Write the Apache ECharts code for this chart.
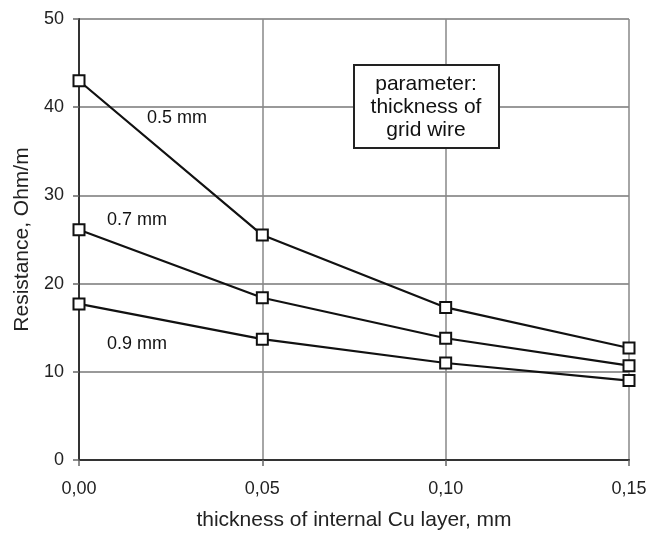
<!DOCTYPE html>
<html>
<head>
<meta charset="utf-8">
<script src="https://cdn.jsdelivr.net/npm/echarts@6/dist/echarts.min.js"></script>
<style>
  html, body { margin: 0; padding: 0; background: #fff; }
  #main { width: 652px; height: 536px; }
</style>
</head>
<body>
<div id="main"></div>
<script>
// x: thickness of internal Cu layer, mm
const cuThickness = [0, 0.05, 0.10, 0.15]
// resistance, Ohm/m, per grid wire thickness
const wire05 = [43.0, 25.5, 17.3, 12.7]
const wire07 = [26.1, 18.4, 13.8, 10.7]
const wire09 = [17.7, 13.7, 11.0, 9.0]
const seriesNames = ['0.5 mm', '0.7 mm', '0.9 mm']

const font = 'Liberation Sans, Arial, sans-serif'
const chart = echarts.init(document.getElementById('main'))

function makeSeries(name, ys) {
  return {
    name: name,
    type: 'line',
    data: cuThickness.map((x, i) => [x, ys[i]]),
    symbol: 'rect',
    symbolSize: 11,
    itemStyle: { color: '#fff', borderColor: '#111', borderWidth: 2 },
    lineStyle: { color: '#111', width: 2.2 },
    z: 3
  }
}

const option = {
  backgroundColor: '#fff',
  animation: false,
  grid: { left: 79, right: 23, top: 19, bottom: 73 },
  xAxis: {
    type: 'value',
    min: 0,
    max: 0.15,
    interval: 0.05,
    name: 'thickness of internal Cu layer, mm',
    nameLocation: 'middle',
    nameGap: 50,
    nameTextStyle: { fontFamily: font, fontSize: 21, color: '#222' },
    axisLine: { show: true, lineStyle: { color: '#333', width: 2 } },
    axisTick: { show: true, length: 6, lineStyle: { color: '#666', width: 1.5 } },
    axisLabel: {
      fontFamily: font, fontSize: 18, color: '#222', margin: 20,
      formatter: v => v.toFixed(2).replace('.', ',')
    },
    splitLine: { show: true, lineStyle: { color: '#888', width: 1.5 } }
  },
  yAxis: {
    type: 'value',
    min: 0,
    max: 50,
    interval: 10,
    name: 'Resistance, Ohm/m',
    nameLocation: 'middle',
    nameGap: 46,
    nameTextStyle: { fontFamily: font, fontSize: 21, color: '#222' },
    axisLine: { show: true, lineStyle: { color: '#333', width: 2 } },
    axisTick: { show: true, length: 6, lineStyle: { color: '#666', width: 1.5 } },
    axisLabel: { fontFamily: font, fontSize: 18, color: '#222', margin: 15 },
    splitLine: { show: true, lineStyle: { color: '#777', width: 1.5 } }
  },
  series: [
    makeSeries(seriesNames[0], wire05),
    makeSeries(seriesNames[1], wire07),
    makeSeries(seriesNames[2], wire09)
  ],
  graphic: [
    { type: 'text', x: 147, y: 118, z: 10,
      style: { text: seriesNames[0], font: '18px ' + font, fill: '#111', verticalAlign: 'middle' } },
    { type: 'text', x: 107, y: 220, z: 10,
      style: { text: seriesNames[1], font: '18px ' + font, fill: '#111', verticalAlign: 'middle' } },
    { type: 'text', x: 107, y: 344, z: 10,
      style: { text: seriesNames[2], font: '18px ' + font, fill: '#111', verticalAlign: 'middle' } },
    { type: 'rect', left: 353, top: 64, z: 10,
      shape: { width: 145, height: 83 },
      style: { fill: '#fff', stroke: '#222', lineWidth: 2 } },
    { type: 'text', x: 426, y: 107, z: 11,
      style: {
        text: 'parameter:\nthickness of\ngrid wire',
        font: '21px ' + font, fill: '#111',
        align: 'center', verticalAlign: 'middle', lineHeight: 23
      } }
  ]
}
chart.setOption(option)
</script>
</body>
</html>
